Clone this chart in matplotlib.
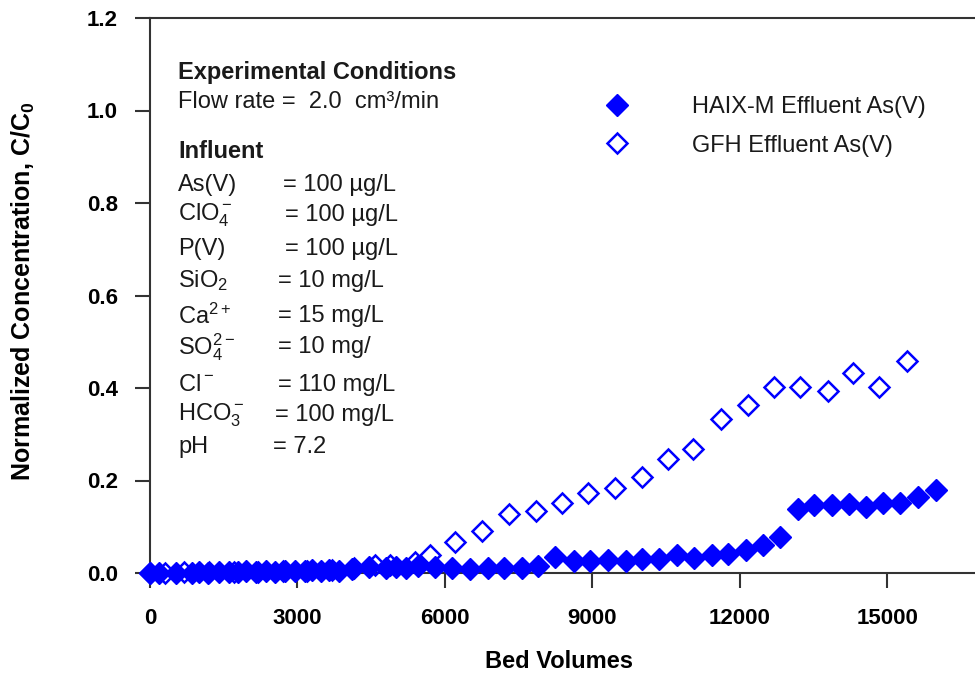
import matplotlib
matplotlib.use("Agg")
import matplotlib.pyplot as plt

plt.rcParams['font.family'] = ['Liberation Sans', 'DejaVu Sans']
plt.rcParams['mathtext.fontset'] = 'custom'
plt.rcParams['mathtext.rm'] = 'Liberation Sans'
plt.rcParams['mathtext.it'] = 'Liberation Sans:italic'
plt.rcParams['mathtext.bf'] = 'Liberation Sans:bold'

# ---------------- data ----------------
haix_bv = [0, 180, 520, 850, 1000, 1180, 1400, 1600, 1800, 1950, 2150, 2350, 2550,
           2750, 2950, 3150, 3300, 3480, 3650, 3850, 4100, 4450, 4800, 5000, 5200,
           5450, 5796, 6136, 6508, 6868, 7206, 7559, 7897, 8237, 8623, 8949, 9321,
           9674, 10013, 10359, 10712, 11064, 11424, 11762, 12121, 12474, 12813,
           13185, 13504, 13864, 14222, 14562, 14914, 15253, 15613, 15985]
haix_c = [0.0, 0.0, 0.0, 0.0, 0.002, 0.0, 0.002, 0.003, 0.002, 0.004, 0.003, 0.004,
          0.003, 0.005, 0.004, 0.005, 0.006, 0.005, 0.007, 0.005, 0.008, 0.012, 0.010,
          0.012, 0.010, 0.015, 0.014, 0.010, 0.008, 0.010, 0.010, 0.010, 0.016, 0.034,
          0.026, 0.027, 0.028, 0.026, 0.030, 0.031, 0.039, 0.032, 0.038, 0.041, 0.050,
          0.061, 0.078, 0.138, 0.147, 0.147, 0.149, 0.143, 0.151, 0.152, 0.165, 0.179]

gfh_bv = [0, 300, 700, 1200, 1700, 2200, 2700, 3200, 3700, 4150, 4576, 4880, 5390,
          5695, 6203, 6746, 7308, 7850, 8373, 8914, 9457, 10000, 10541, 11050, 11613,
          12155, 12690, 13220, 13783, 14304, 14833, 15390]
gfh_c = [0.0, 0.0, 0.002, 0.002, 0.003, 0.003, 0.004, 0.004, 0.006, 0.010, 0.017,
         0.017, 0.024, 0.039, 0.068, 0.090, 0.127, 0.134, 0.151, 0.172, 0.183, 0.208,
         0.246, 0.268, 0.333, 0.363, 0.403, 0.403, 0.394, 0.433, 0.403, 0.458]

x_ticks = [0, 3000, 6000, 9000, 12000, 15000]
y_ticks = [0.0, 0.2, 0.4, 0.6, 0.8, 1.0, 1.2]

series_labels = ["HAIX-M Effluent As(V)", "GFH Effluent As(V)"]

influent_names = ["As(V)", r"ClO$_4^-$", "P(V)", r"SiO$_2$", r"Ca$^{2+}$",
                  r"SO$_4^{2-}$", r"Cl$^-$", r"HCO$_3^-$", "pH"]
influent_values = ["= 100 µg/L", "= 100 µg/L", "= 100 µg/L", "= 10 mg/L",
                   "= 15 mg/L", "= 10 mg/", "= 110 mg/L", "= 100 mg/L", "= 7.2"]

# ---------------- figure ----------------
W, H = 975, 676
fig = plt.figure(figsize=(W / 100, H / 100), dpi=100)
ax = fig.add_axes([150 / W, (H - 573) / H, (W - 150) / W, (573 - 18) / H])

blue = '#0000ff'
h1, = ax.plot(haix_bv, haix_c, linestyle='none', marker='D', markersize=11.5,
              color=blue, markeredgecolor=blue, markeredgewidth=1.0, zorder=3,
              clip_on=False)
h2, = ax.plot(gfh_bv, gfh_c, linestyle='none', marker='D', markersize=10.5,
              markerfacecolor='none', markeredgecolor=blue, markeredgewidth=1.8,
              zorder=4, clip_on=False)

ax.set_xlim(0, 16780)
ax.set_ylim(0, 1.2)
ax.set_xticks(x_ticks)
ax.set_yticks(y_ticks)
ax.set_yticklabels([f"{v:.1f}" for v in y_ticks])
ax.set_xticklabels([str(v) for v in x_ticks])

for s in ['left', 'bottom', 'top']:
    ax.spines[s].set_color('#333333')
    ax.spines[s].set_linewidth(1.5)
    ax.spines[s].set_zorder(2)
ax.spines['right'].set_visible(False)
ax.tick_params(direction='out', length=11, width=1.5, color='#333333')
ax.tick_params(axis='y', pad=12, labelsize=16)
ax.tick_params(axis='x', pad=14, labelsize=16)
for lab in ax.get_yticklabels():
    lab.set_fontweight('bold')
for lab in ax.get_xticklabels():
    lab.set_fontweight('bold')

ax.set_ylabel(r"Normalized Concentration, C/C$_{\mathbf{0}}$", fontsize=18,
              fontweight='bold', va='center')
ax.yaxis.set_label_coords(-0.153, 0.508)
ax.set_xlabel("Bed Volumes", fontsize=17, fontweight='bold', va='center')
ax.xaxis.set_label_coords(0.496, -0.160)

# legend
leg = ax.legend([h1, h2], series_labels, frameon=False, loc='upper left',
                bbox_to_anchor=(593 / W, 1 - 96 / H), bbox_transform=fig.transFigure,
                fontsize=17, handlelength=2.0, handletextpad=2.2, labelspacing=0.7,
                borderpad=0, borderaxespad=0)
for t in leg.get_texts():
    t.set_color('#1a1a1a')

# text block
tc = '#1a1a1a'
def ftext(px, py, s, **kw):
    fig.text(px / W, 1 - py / H, s, va='center', ha='left', color=tc, **kw)

ftext(178, 73, "Experimental Conditions", fontsize=17, fontweight='bold')
ftext(178, 102, "Flow rate =  2.0  cm³/min", fontsize=17)
ftext(178, 152, "Influent", fontsize=17, fontweight='bold')
row_y = [185, 215, 249, 281, 316, 347, 385, 415, 447]
eq_x = [283, 285, 285, 278, 278, 278, 278, 275, 273]
for name, val, yy, xx in zip(influent_names, influent_values, row_y, eq_x):
    ftext(178, yy, name, fontsize=17)
    ftext(xx, yy, val, fontsize=17)

fig.savefig("out.png", dpi=100)
